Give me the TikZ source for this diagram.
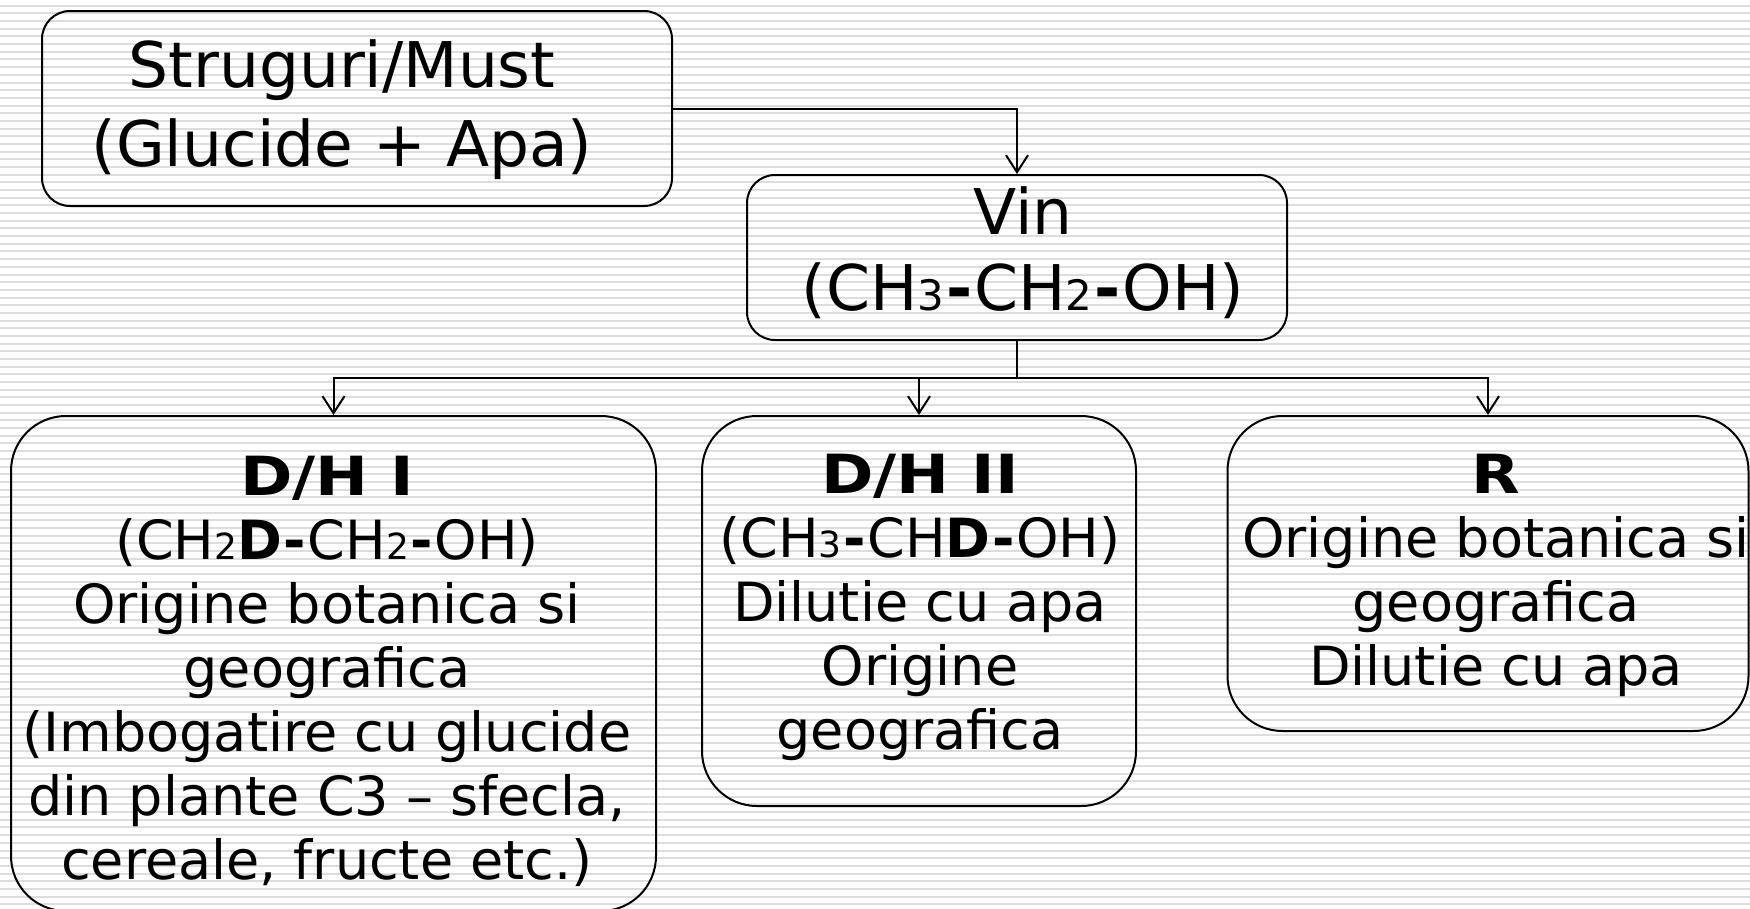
\documentclass[tikz,border=0pt]{standalone}
\usepackage{fontspec}
\setmainfont{DejaVu Sans}
\newfontfamily\wbold[FakeStretch=1.17]{DejaVu Sans Bold}
\usetikzlibrary{arrows.meta}
\definecolor{stripecol}{HTML}{DDDDDD}
\newcommand\mustf{\fontsize{63}{79}\selectfont}
\newcommand\vinf{\fontsize{63}{76}\selectfont}
\newcommand\smf{\fontsize{54}{64}\selectfont}
\newcommand\bsub[1]{{\fontsize{42}{42}\selectfont #1}}
\newcommand\ssub[1]{{\fontsize{36}{36}\selectfont #1}}
\newcommand\hy{\kern0.03em\textbf{-}\kern0.03em}
\begin{document}
\begin{tikzpicture}[x=1pt,y=-1pt,
  box/.style={draw=black, line width=2pt, rounded corners=28pt, inner sep=0pt},
  bigbox/.style={draw=black, line width=2pt, rounded corners=55pt, inner sep=0pt},
  txt/.style={align=center, inner sep=0pt},
  conn/.style={draw=black, line width=2pt},
  arr/.style={conn, -{Straight Barb[length=17pt,width=22pt,line width=2pt]}}]
\useasboundingbox (0,0) rectangle (1750,908);
\foreach \k in {0,...,118}
  \fill[stripecol] (0,{5.7+7.68*\k-1}) rectangle (1750,{5.7+7.68*\k+1});
% boxes
\node[box, minimum width=630pt, minimum height=195pt] (must) at (357,108.5) {};
\node[box, minimum width=540pt, minimum height=165pt] (vin) at (1017,257.5) {};
\node[bigbox, minimum width=645pt, minimum height=495pt] (dh1) at (333.5,663.5) {};
\node[bigbox, minimum width=434pt, minimum height=390pt] (dh2) at (919,611) {};
\node[bigbox, minimum width=521pt, minimum height=315pt] (r) at (1488,573.5) {};
% texts
\node[txt, font=\mustf] (mustt) at (342,110) {Struguri/Must\\(Glucide + Apa)};
\node[txt, font=\vinf] (vint) at (1023,253) {Vin\\(CH\bsub{3}\hy CH\bsub{2}\hy OH)};
\node[txt, font=\smf] (dh1t) at (327,671) {{\wbold D/H I}\\(CH\ssub{2}\textbf{D}\hy CH\ssub{2}\hy OH)\\Origine botanica si\\geografica\\(Imbogatire cu glucide\\din plante C3 – sfecla,\\cereale, fructe etc.)};
\node[txt, font=\smf] (dh2t) at (920,607) {{\wbold D/H II}\\(CH\ssub{3}\hy CH\textbf{D}\hy OH)\\Dilutie cu apa\\Origine\\geografica};
\node[txt, font=\smf] (rt) at (1496,575) {{\wbold R}\\Origine botanica si\\geografica\\Dilutie cu apa};
% connectors
\draw[arr] (must.east) -| (vin.north);
\coordinate (bus) at (1017,378);
\draw[conn] (vin.south) -- (bus);
\draw[arr] (bus) -| (dh1.north);
\draw[arr] (bus) -| (dh2.north);
\draw[arr] (bus) -| (r.north);
\end{tikzpicture}
\end{document}
